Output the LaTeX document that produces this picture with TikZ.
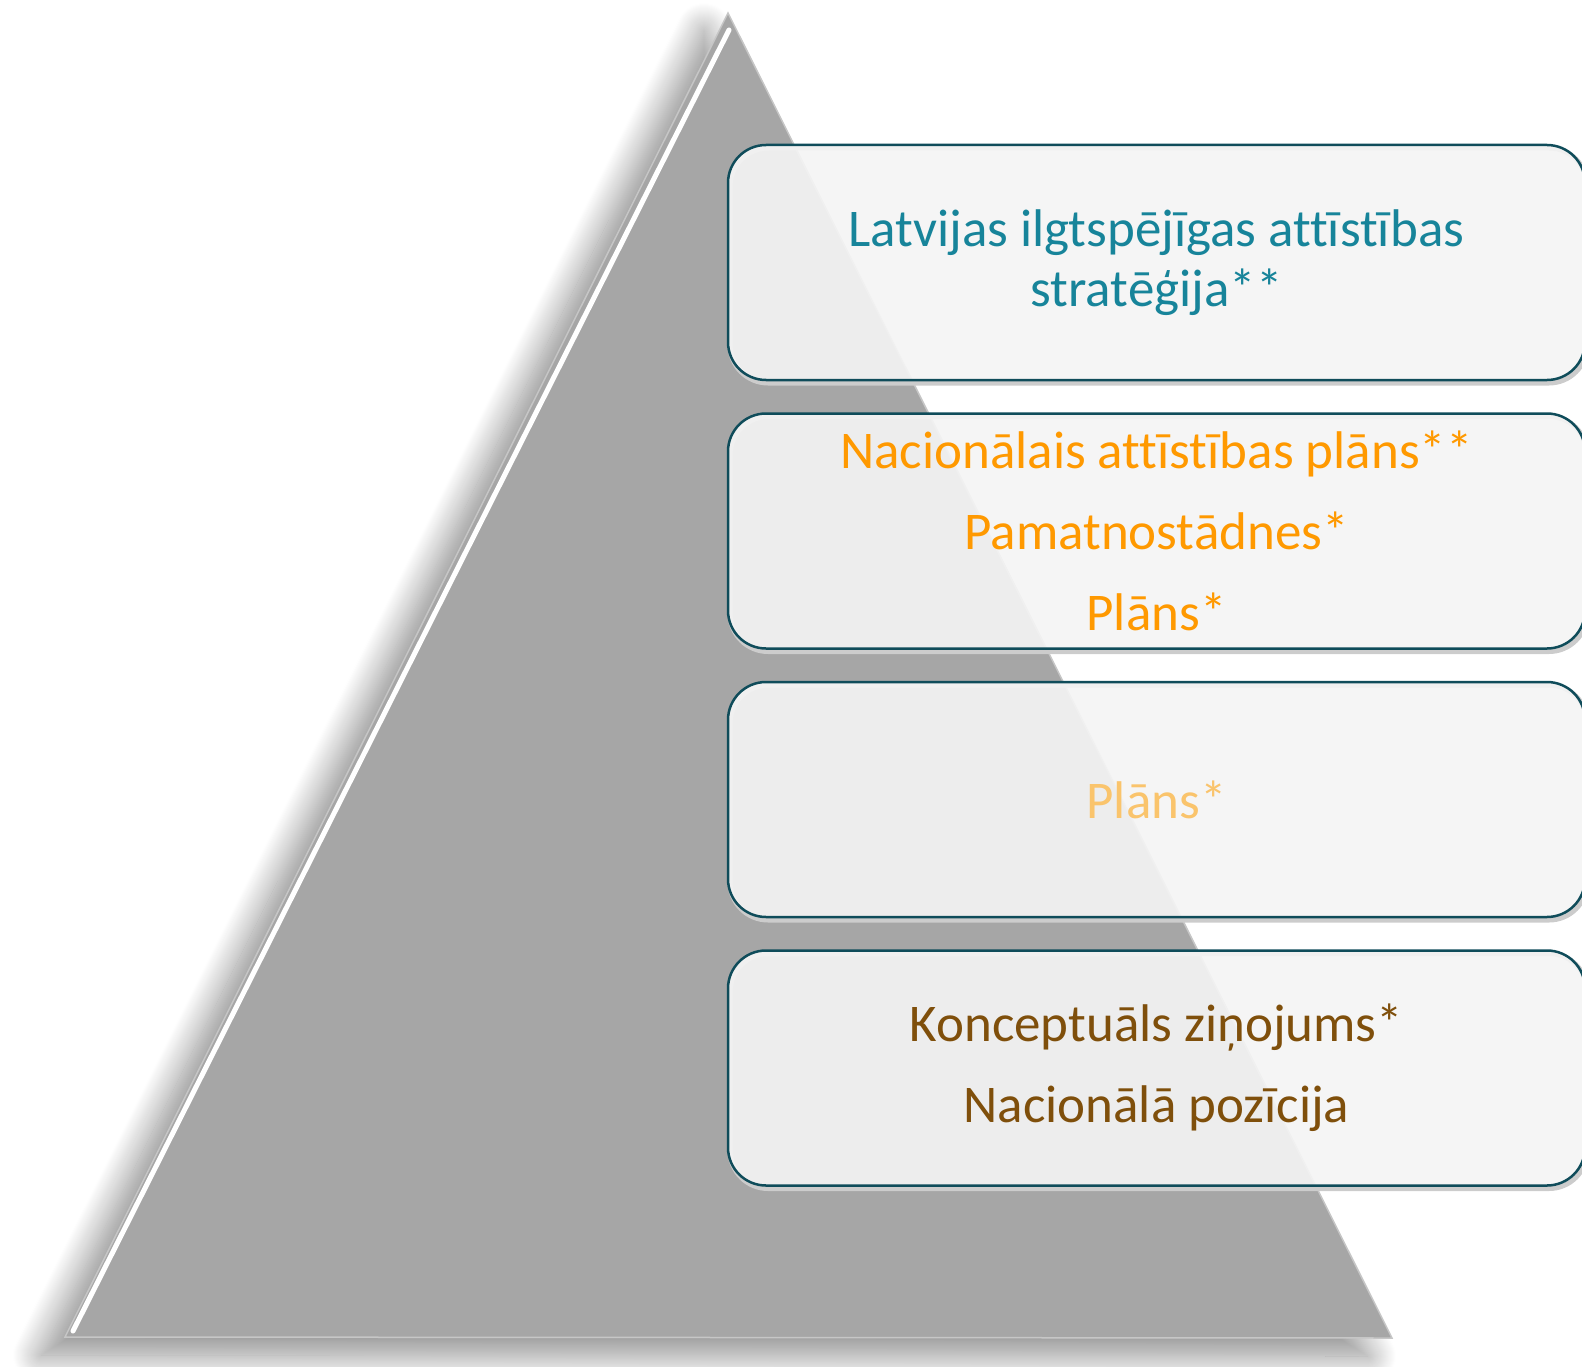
\documentclass[tikz,border=0pt]{standalone}
\usepackage{fontspec}
\setmainfont{Carlito}[Ligatures=NoCommon]
\usetikzlibrary{positioning, shadows.blur}
\definecolor{pyrgray}{HTML}{A6A6A6}
\definecolor{boxline}{HTML}{0F4C5A}
\definecolor{boxfill}{HTML}{F4F4F4}
\definecolor{tealtext}{HTML}{17849A}
\definecolor{orangetext}{HTML}{FF9900}
\definecolor{paleorange}{HTML}{FAC46C}
\definecolor{browntext}{HTML}{7F4F0B}

\begin{document}
\begin{tikzpicture}[
        x=1pt, y=-1pt,
        pyramid/.style={fill=pyrgray, draw=gray!45, line width=1.5pt, blur shadow={shadow xshift=-24pt, shadow yshift=-18pt, shadow blur radius=28pt, shadow opacity=45, shadow blur steps=30}},
        level/.style={rectangle, draw=boxline, line width=2.5pt, rounded corners=38pt, fill=boxfill, fill opacity=0.92, text opacity=1, minimum width=857pt, minimum height=235pt, align=center,
            preaction={draw=black!20, line width=5pt, draw opacity=1, transform canvas={xshift=2pt, yshift=-3pt}}},
        node distance=31pt
        ]
        \useasboundingbox (0,0) rectangle (1582,1367);

        % Pyramid
        \coordinate (apex) at (728,13);
        \coordinate (baseleft) at (65,1337);
        \coordinate (baseright) at (1392,1338);
        \path [pyramid] (apex) -- (baseright) -- (baseleft) -- cycle;
        \draw [white, line width=5pt, line cap=round] (729,30) -- (73,1331);

        % Nodes
        \node (strategy) [level, font=\fontsize{53}{60}\selectfont, text=tealtext] at (1156.5,262.5) {Latvijas ilgtspējīgas attīstības\\stratēģija**};
        \node (plans) [level, below=of strategy, font=\fontsize{53}{81}\selectfont, text=orangetext] {Nacionālais attīstības plāns**\\Pamatnostādnes*\\Plāns*};
        \node (plan) [level, below=of plans, font=\fontsize{53}{81}\selectfont, text=paleorange] {Plāns*};
        \node (report) [level, below=of plan, font=\fontsize{53}{81}\selectfont, text=browntext] {Konceptuāls ziņojums*\\Nacionālā pozīcija};

    \end{tikzpicture}
\end{document}
